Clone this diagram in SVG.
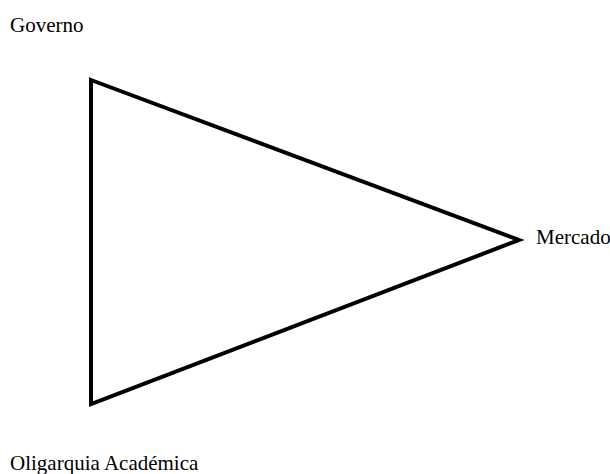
<svg xmlns="http://www.w3.org/2000/svg" width="610" height="474" viewBox="0 0 610 474">
<style>
.lbl{font-family:"Liberation Serif","Times New Roman",serif;font-size:21px;fill:#000}
.edge{fill:none;stroke:#000;stroke-width:4;stroke-linejoin:miter}
</style>
<rect width="610" height="474" fill="#fff"/>
<g id="connectors">
<polygon class="edge" points="91,80 519,240 91,404"/>
</g>
<g id="governo"><text class="lbl" x="10" y="32">Governo</text></g>
<g id="mercado"><text class="lbl" x="536" y="244">Mercado</text></g>
<g id="oligarquia"><text class="lbl" x="10" y="470">Oligarquia Académica</text></g>
</svg>
